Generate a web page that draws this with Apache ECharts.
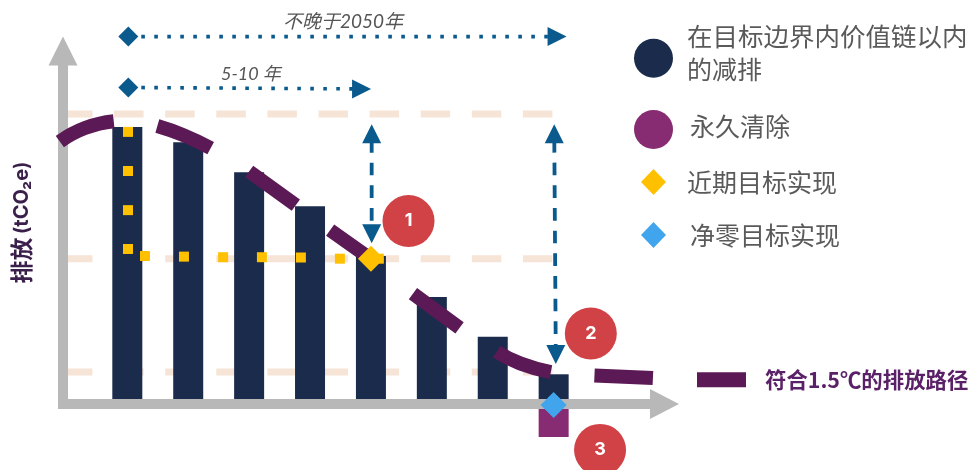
<!DOCTYPE html>
<html lang="zh">
<head>
<meta charset="utf-8">
<title>排放路径</title>
<script src="https://cdn.jsdelivr.net/npm/echarts@6/dist/echarts.min.js"></script>
<style>html,body{margin:0;padding:0;background:#fff}#chart{width:972px;height:470px}</style>
</head>
<body>
<div id="chart"></div>
<script>
// Emissions, in index units (first period = 0, baseline near 100).
const periods = [0, 1, 2, 3, 4, 5, 6, 7];
const reductions = [94.2, 89, 78.8, 67.2, 50.3, 36.4, 22.9, 10.1];
const removals = [null, null, null, null, null, null, null, -11.2];

// Reference levels: base year, near-term target, net-zero residual.
const levels = [98.6, 49.4, 10.9];
const levelStart = -1.056;
const levelEnd = 6.985;

// 1.5°C pathway, broken into dashes by nulls.
const pathX = [-1.108, -0.695, -0.223, null, 0.493, 0.92, 1.369, null, 2.0, 2.767, null, 3.33, 4.02, null, 4.69, 5.455, null, 6.066, 6.449, 6.954, null, 7.67, 8.63];
const pathY = [89.2, 93.8, 96.1, null, 94.5, 91.4, 87.0, null, 79.1, 67.6, null, 59.1, 49.0, null, 37.5, 25.9, null, 17.8, 13.8, 10.8, null, 9.7, 8.8];

// Dotted guide leading to the near-term target.
const guideX = [0.011, 0.011, 0.011, 0.011, 0.29, 0.93, 1.573, 2.21, 2.85, 3.49, 4.13];
const guideY = [92.5, 79.2, 65.9, 52.7, 50.3, 50.1, 49.9, 49.9, 49.8, 49.4, 49.4];

// Target markers.
const nearTarget = [4, 49.4];
const netZero = [7, -0.3];

// Time-frame arrows and reduction arrows.
const spanLong = [[0.016, 124.9], [7.056, 124.9]];
const spanShort = [[0.016, 107.6], [3.846, 107.1]];
const dropNear = [[4.012, 91.9], [4.012, 57.9]];
const dropNet = [[7.01, 91.9], [7.035, 16.8]];

// Numbered callouts.
const calloutX = [4.617, 7.61, 7.762];
const calloutY = [62.2, 24.0, -15.6];
const calloutText = ['1', '2', '3'];

const legendNames = ['在目标边界内价值链以内的减排', '永久清除', '近期目标实现', '净零目标实现', '符合1.5℃的排放路径'];
const spanLabels = ['不晚于2050年', '5-10 年'];

const navy = '#1b2b4b', plum = '#872c72', amber = '#ffc000', sky = '#41a5ee';
const pathColor = '#5b1a56', peach = '#f6e4d6', arrowBlue = '#0b5a8e', grey = '#b8b8b8', red = '#d04245';
const cjk = '"Noto Sans CJK SC"';

function levelSeries(v) {
  return {
    type: 'line', z: 1, silent: true, symbol: 'none', animation: false,
    data: [[levelStart, v], [levelEnd, v]],
    lineStyle: { color: peach, width: 7, type: [29.5, 21.6] }
  };
}

// Dotted horizontal arrow: diamond tail, triangular head.
function spanSeries(points) {
  return {
    type: 'line', z: 4, silent: true, clip: false, animation: false, showAllSymbol: true,
    data: points,
    symbol: (v, p) => (p.dataIndex === 0 ? 'diamond' : 'triangle'),
    symbolSize: (v, p) => (p.dataIndex === 0 ? 20 : 19),
    symbolRotate: (v, p) => (p.dataIndex === 0 ? 0 : -90),
    itemStyle: { color: arrowBlue },
    lineStyle: { color: arrowBlue, width: 3.6, type: [3.6, 9.4] }
  };
}

// Dashed vertical double-headed arrow.
function dropSeries(points) {
  return {
    type: 'line', z: 4, silent: true, clip: false, animation: false, showAllSymbol: true,
    data: points,
    symbol: 'triangle',
    symbolSize: 19,
    symbolRotate: (v, p) => (p.dataIndex === 0 ? 0 : 180),
    itemStyle: { color: arrowBlue },
    lineStyle: { color: arrowBlue, width: 3.8, type: [12.67, 10], dashOffset: 16.37 }
  };
}

function legendBox(name, icon, left, top, w, h, pad, textStyle, formatter) {
  const box = {
    data: [{ name, icon }], left, top, itemWidth: w, itemHeight: h, selectedMode: false,
    orient: 'vertical', padding: 0,
    textStyle: Object.assign({ color: '#5a5a5a', fontFamily: cjk, fontSize: 25, padding: pad }, textStyle || {})
  };
  if (formatter) box.formatter = formatter;
  return box;
}

const chart = echarts.init(document.getElementById('chart'), null, { renderer: 'canvas' });
chart.setOption({
  animation: false,
  backgroundColor: '#fff',
  grid: { left: 63, top: 51, width: 601.5, height: 353, containLabel: false, outerBoundsMode: 'none' },
  tooltip: { show: false },
  legend: [
    legendBox(legendNames[0], 'circle', 634, 24, 39, 39, [0, 0, 10, 9], {
      rich: {
        a: { fontFamily: cjk, fontSize: 25.5, color: '#5a5a5a', lineHeight: 33 },
        b: { fontFamily: cjk, fontSize: 25, color: '#5a5a5a', lineHeight: 33 }
      }
    }, () => '{a|在目标边界内价值链以内}\n{b|的减排}'),
    legendBox(legendNames[1], 'circle', 634, 110, 39, 39, [0, 0, 0, 12], {
      rich: { c: { fontFamily: cjk, fontSize: 25, color: '#5a5a5a', padding: [0, 0, 7, 0] } }
    }, (n) => '{c|' + n + '}'),
    legendBox(legendNames[2], 'diamond', 641, 169, 25, 26, [0, 0, 0, 16]),
    legendBox(legendNames[3], 'diamond', 641, 222, 25, 26, [0, 0, 0, 19]),
    legendBox(legendNames[4], 'rect', 697, 369, 49, 15, [0, 0, 4, 14], {
      color: '#5a2068', fontWeight: 'bold', fontSize: 21.4
    })
  ],
  xAxis: {
    type: 'value', min: -1.056, max: 8.82, z: 3, containShape: false,
    splitLine: { show: false }, axisTick: { show: false }, axisLabel: { show: false },
    axisLine: {
      onZero: false, symbol: ['none', 'triangle'], symbolSize: [30, 29],
      lineStyle: { color: grey, width: 10, cap: 'square' }
    }
  },
  yAxis: {
    type: 'value', min: 0, max: 120, z: 3,
    splitLine: { show: false }, axisTick: { show: false }, axisLabel: { show: false },
    axisLine: {
      onZero: false, symbol: ['none', 'triangle'], symbolSize: [29, 29],
      lineStyle: { color: grey, width: 10, cap: 'square' }
    },
    name: '{zh|排放} {en|(tCO₂e)}',
    nameLocation: 'middle', nameRotate: 90, nameGap: 30,
    nameTextStyle: {
      padding: [0, 0, 0, 10],
      rich: {
        zh: { fontFamily: cjk, fontSize: 23, fontWeight: 'bold', color: '#3b1f4b' },
        en: { fontFamily: 'Inter', fontSize: 20, fontWeight: 'bold', color: '#3b1f4b' }
      }
    }
  },
  series: [
    ...levels.map(levelSeries),
    {
      name: legendNames[0], type: 'bar', stack: 'net', z: 2, barWidth: 30, clip: false, silent: true,
      data: periods.map((p, i) => [p, reductions[i]]),
      itemStyle: { color: navy }
    },
    {
      name: legendNames[1], type: 'bar', stack: 'net', z: 2, barWidth: 30, clip: false, silent: true,
      data: periods.map((p, i) => [p, removals[i]]),
      itemStyle: { color: plum }
    },
    {
      name: legendNames[4], type: 'line', z: 5, clip: false, silent: true, symbol: 'none', smooth: 0.5,
      connectNulls: false,
      data: pathX.map((x, i) => (x === null ? [null, null] : [x, pathY[i]])),
      itemStyle: { color: pathColor },
      lineStyle: { color: pathColor, width: 14, cap: 'butt' }
    },
    {
      type: 'scatter', z: 6, silent: true, symbol: 'rect', symbolSize: 10,
      data: guideX.map((x, i) => [x, guideY[i]]),
      itemStyle: { color: amber, opacity: 1 }
    },
    {
      name: legendNames[2], type: 'scatter', z: 7, silent: true, symbol: 'diamond', symbolSize: 26,
      data: [nearTarget], itemStyle: { color: amber, opacity: 1 }
    },
    {
      name: legendNames[3], type: 'scatter', z: 7, silent: true, clip: false, symbol: 'diamond', symbolSize: 26,
      data: [netZero], itemStyle: { color: sky, opacity: 1 }
    },
    spanSeries(spanLong),
    spanSeries(spanShort),
    dropSeries(dropNear),
    dropSeries(dropNet),
    {
      type: 'scatter', z: 8, silent: true, clip: false, symbol: 'circle', symbolSize: 52,
      data: calloutX.map((x, i) => ({
        value: [x, calloutY[i]],
        label: { formatter: calloutText[i] }
      })),
      itemStyle: { color: red, opacity: 1 },
      label: {
        show: true, position: 'inside', color: '#fff',
        fontFamily: 'Inter', fontWeight: 'bold', fontSize: 18
      }
    }
  ],
  graphic: [
    {
      type: 'text', left: 283, top: 12, silent: true,
      style: { text: spanLabels[0], fill: '#555', font: 'italic 19px Lato, "Noto Sans CJK SC"' }
    },
    {
      type: 'text', left: 221, top: 65, silent: true,
      style: { text: spanLabels[1], fill: '#555', font: 'italic 18px Lato, "Noto Sans CJK SC"' }
    }
  ]
});
</script>
</body>
</html>
